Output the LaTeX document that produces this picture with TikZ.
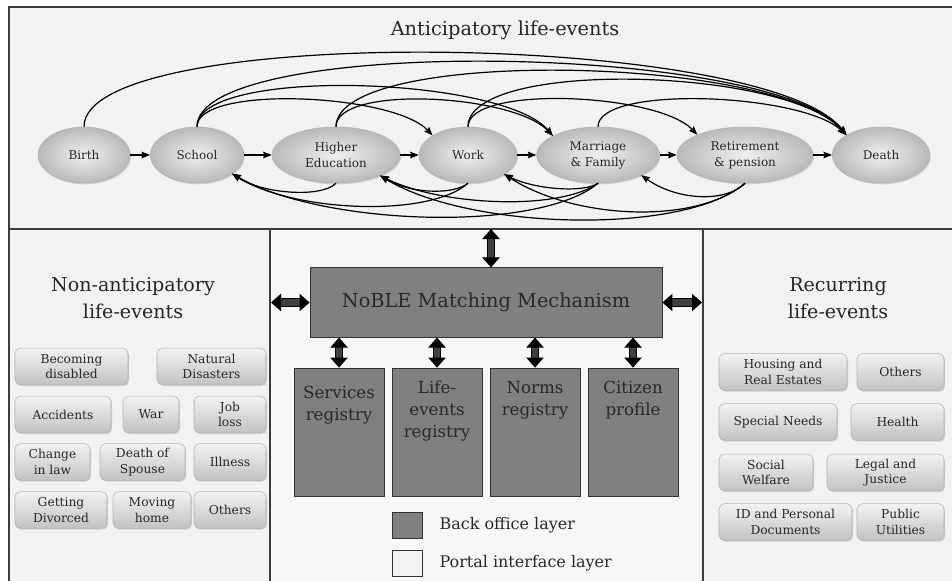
\documentclass[tikz,border=0pt]{standalone}
\usepackage{fontspec}
\setmainfont{DejaVu Serif}
\usetikzlibrary{shapes.geometric,shadows,arrows.meta,positioning}
\definecolor{panelbg}{RGB}{242,242,242}
\definecolor{framegray}{RGB}{60,60,60}
\definecolor{backoffice}{RGB}{128,128,128}
\definecolor{txtgray}{RGB}{40,40,40}
\tikzset{
  panel/.style={fill=panelbg, draw=framegray, line width=1.1pt},
  title/.style={text=black!85, align=center, font=\fontsize{14.5}{20}\selectfont},
  event/.style={ellipse, draw=gray!60, inner color=gray!12, outer color=gray!55, minimum height=42pt,
    inner sep=0pt, align=center, text=txtgray, font=\fontsize{9}{12}\selectfont,
    drop shadow={opacity=0.3, shadow xshift=0.8pt, shadow yshift=-1pt}},
  button/.style={rounded corners=4pt, draw=gray!60, top color=gray!10, bottom color=gray!48,
    minimum height=27.5pt, inner sep=0pt, align=center, text=txtgray, font=\fontsize{9.2}{11.5}\selectfont,
    drop shadow={opacity=0.3, shadow xshift=0.8pt, shadow yshift=-1pt}},
  backbox/.style={draw=black!80, fill=backoffice, line width=0.6pt,
    drop shadow={opacity=0.45, shadow xshift=0.8pt, shadow yshift=-0.8pt}},
  regtext/.style={anchor=north, inner sep=0pt, align=center, text=txtgray, font=\fontsize{12.5}{16.5}\selectfont},
  legtext/.style={inner sep=0pt, text=txtgray, font=\fontsize{12}{14}\selectfont},
  flow/.style={line width=0.9pt, -{Stealth[length=6.5pt, width=5pt, inset=1pt]}},
  bigarrow/.style={line width=0.8pt, double=backoffice!50!black, double distance=4.8pt,
    {Triangle[width=13pt, length=7.5pt]}-{Triangle[width=13pt, length=7.5pt]}}
}
\begin{document}
\begin{tikzpicture}[x=0.75pt,y=-0.75pt]
  %page
  \useasboundingbox (0,0) rectangle (952,581);
  \clip (0,0) rectangle (952,581);
  \fill[white] (0,0) rectangle (952,581);
  %panels
  \draw[panel] (9,7) rectangle (980,229);
  \draw[panel] (9,229) rectangle (270,600);
  \draw[panel, fill=panelbg!60!white] (270,229) rectangle (703,600);
  \draw[panel] (703,229) rectangle (980,600);
  %
  %anticipatory life-events
  \node[title] (antictitle) at (505,30) {Anticipatory life-events};
  \node[event, minimum width=69pt] (birth) at (84,155) {Birth};
  \node[event, minimum width=70pt] (school) at (197,155) {School};
  \node[event, minimum width=96pt] (higher) at (336,155) {Higher\\Education};
  \node[event, minimum width=73.5pt] (work) at (468,155) {Work};
  \node[event, minimum width=92pt] (marriage) at (598,155) {Marriage\\\& Family};
  \node[event, minimum width=102pt] (retire) at (745,155) {Retirement\\\& pension};
  \node[event, minimum width=73pt] (death) at (881,155) {Death};
  \draw[flow] (birth) -- (school);
  \draw[flow] (school) -- (higher);
  \draw[flow] (higher) -- (work);
  \draw[flow] (work) -- (marriage);
  \draw[flow] (marriage) -- (retire);
  \draw[flow] (retire) -- (death);
  %forward arcs
  \draw[flow] (birth.north) .. controls +(0,-104) and +(-80,-104) .. (death.150);
  \draw[flow] (school.north) .. controls +(0,-92) and +(-75,-92) .. (death.150);
  \draw[flow] (school.north) .. controls +(0,-60) and +(-50,-60) .. (marriage.157);
  \draw[flow] (school.north) .. controls +(0,-42) and +(-40,-42) .. (work.151);
  \draw[flow] (higher.north) .. controls +(0,-80) and +(-70,-80) .. (death.150);
  \draw[flow] (higher.north) .. controls +(0,-42) and +(-40,-42) .. (marriage.157);
  \draw[flow] (work.north) .. controls +(0,-68) and +(-60,-68) .. (death.150);
  \draw[flow] (work.north) .. controls +(0,-42) and +(-40,-42) .. (retire.157);
  \draw[flow] (marriage.north) .. controls +(0,-42) and +(-45,-42) .. (death.150);
  %backward arcs
  \draw[flow] (higher.south) .. controls +(-15,15) and +(30,20) .. (school.-28);
  \draw[flow] (work.south) .. controls +(-15,12) and +(30,18) .. (higher.-25);
  \draw[flow] (work.south) .. controls +(-40,35) and +(60,38) .. (school.-28);
  \draw[flow] (marriage.south) .. controls +(-15,10) and +(30,15) .. (work.-28);
  \draw[flow] (marriage.south) .. controls +(-40,28) and +(60,30) .. (higher.-25);
  \draw[flow] (marriage.south) .. controls +(-60,50) and +(90,52) .. (school.-28);
  \draw[flow] (retire.south) .. controls +(-20,20) and +(35,25) .. (marriage.-25);
  \draw[flow] (retire.south) .. controls +(-50,42) and +(70,45) .. (work.-28);
  \draw[flow] (retire.south) .. controls +(-60,52) and +(90,55) .. (higher.-25);
  %
  %matching mechanism
  \node[backbox, minimum width=264pt, minimum height=52pt, text=txtgray,
    font=\fontsize{14.5}{17}\selectfont] (noble) at (486,302.5) {NoBLE Matching Mechanism};
  \node[backbox, minimum width=67.5pt, minimum height=96pt] (services) at (339,432) {};
  \node[backbox, minimum width=67.5pt, minimum height=96pt] (lifeev) at (437,432) {};
  \node[backbox, minimum width=67.5pt, minimum height=96pt] (norms) at (535,432) {};
  \node[backbox, minimum width=67.5pt, minimum height=96pt] (citizen) at (633,432) {};
  \node[regtext] (servicestxt) at ([yshift=-14pt]services.north) {Services\\registry};
  \node[regtext] (lifeevtxt) at ([yshift=-10pt]lifeev.north) {Life-\\events\\registry};
  \node[regtext] (normstxt) at ([yshift=-10pt]norms.north) {Norms\\registry};
  \node[regtext] (citizentxt) at ([yshift=-10pt]citizen.north) {Citizen\\profile};
  \foreach \reg in {services, lifeev, norms, citizen}
    \draw[bigarrow] (\reg |- noble.south) -- (\reg.north);
  \coordinate (anticend) at (491,229);
  \coordinate (nonend) at (271,302.5);
  \coordinate (recend) at (702,302.5);
  \draw[bigarrow] (anticend |- noble.north) -- (anticend);
  \draw[bigarrow] (nonend) -- (noble.west);
  \draw[bigarrow] (noble.east) -- (recend);
  %legend
  \node[backbox, minimum width=22pt, minimum height=19pt] (legback) at (407.5,525.5) {};
  \node[draw=black!80, fill=panelbg, line width=0.6pt, minimum width=22pt, minimum height=19.5pt,
    drop shadow={opacity=0.45, shadow xshift=0.8pt, shadow yshift=-0.8pt}] (legportal) at (407.5,563) {};
  \node[legtext, right=12.5pt of legback] (legbacktxt) {Back office layer};
  \node[legtext, right=12.5pt of legportal] (legportaltxt) {Portal interface layer};
  %
  %non-anticipatory life-events
  \node[title, font=\fontsize{14.3}{20}\selectfont] (nontitle) at (133,298) {Non-anticipatory\\life-events};
  \foreach \nm/\cx/\cy/\w/\txt in {
      becoming/71.5/366.5/113/{Becoming\\disabled}, natural/211.5/366.5/109/{Natural\\Disasters},
      accidents/63/414.5/96/{Accidents}, war/151/414.5/56/{War}, jobloss/230/414.5/72/{Job\\loss},
      lawchange/52.5/462/75/{Change\\in law}, spouse/142.5/462/85/{Death of\\Spouse}, illness/230/462/72/{Illness},
      divorced/61/510/92/{Getting\\Divorced}, moving/152/510/78/{Moving\\home}, nonothers/230/510/72/{Others}}
    \node[button, minimum width=\w*0.75pt] (\nm) at (\cx,\cy) {\txt};
  %
  %recurring life-events
  \node[title, font=\fontsize{14.3}{20}\selectfont] (rectitle) at (838,298) {Recurring\\life-events};
  \foreach \nm/\cx/\cy/\w/\txt in {
      housing/783/372/128/{Housing and\\Real Estates}, recothers/900.5/372/87/{Others},
      special/778/422/118/{Special Needs}, health/897.5/422/93/{Health},
      welfare/766/472.5/94/{Social\\Welfare}, legal/885.5/472.5/117/{Legal and\\Justice},
      iddocs/785.5/522/133/{ID and Personal\\Documents}, utilities/900.5/522/87/{Public\\Utilities}}
    \node[button, minimum width=\w*0.75pt] (\nm) at (\cx,\cy) {\txt};
\end{tikzpicture}
\end{document}
